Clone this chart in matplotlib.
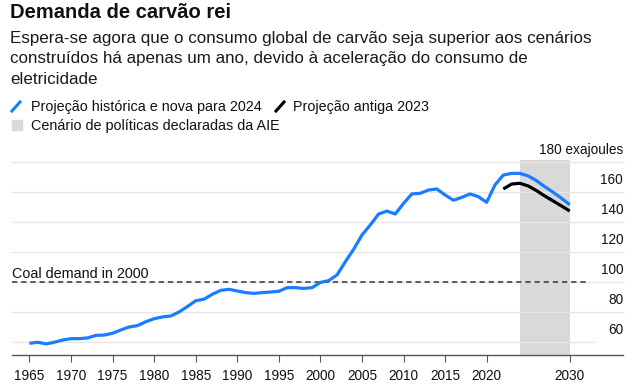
import matplotlib
matplotlib.use("Agg")
import matplotlib.pyplot as plt
from matplotlib.lines import Line2D
from matplotlib.patches import Rectangle

plt.rcParams['font.family'] = ['Liberation Sans', 'DejaVu Sans']

# ---- data ----
blue_years = list(range(1965, 2031))
blue_values = [58.9, 59.6, 58.5, 59.6, 61.1, 62.0, 62.0, 62.5, 64.2, 64.4,
               65.6, 67.8, 69.8, 70.7, 73.3, 75.3, 76.5, 77.1, 79.8, 83.4,
               87.3, 88.3, 91.6, 94.2, 94.9, 93.8, 92.7, 92.2, 92.7, 93.1,
               93.6, 96.0, 96.0, 95.5, 96.0, 99.5, 100.7, 104.5, 113.3, 121.6,
               131.1, 137.8, 145.1, 147.1, 145.1, 152.2, 158.5, 158.9, 161.1, 161.8,
               157.8, 154.3, 156.2, 158.5, 156.7, 152.9, 164.5, 171.1, 172.2, 172.2,
               170.5, 167.3, 163.3, 159.6, 155.6, 151.3]
black_years = list(range(2022, 2031))
black_values = [161.8, 165.1, 165.6, 163.8, 160.7, 157.1, 153.8, 150.5, 147.1]
shade_start, shade_end = 2024, 2030
coal_2000 = 100
y_ticks = [60, 80, 100, 120, 140, 160, 180]
x_ticks = [1965, 1970, 1975, 1980, 1985, 1990, 1995, 2000, 2005, 2010, 2015, 2020, 2030]

title = "Demanda de carvão rei"
subtitle_lines = ["Espera-se agora que o consumo global de carvão seja superior aos cenários",
                  "construídos há apenas um ano, devido à aceleração do consumo de",
                  "eletricidade"]
legend_blue = "Projeção histórica e nova para 2024"
legend_black = "Projeção antiga 2023"
legend_shade = "Cenário de políticas declaradas da AIE"

BLUE = "#1a7dff"
GRID = "#e6e6e6"
SHADE = "#d9d9d9"
TXT = "#111111"

W, H = 644, 385
fig = plt.figure(figsize=(W / 100, H / 100), dpi=100)

def fx(x):
    return x / W

def fy(y):
    return 1 - y / H

xmin, xmax = 1962.9, 2036.4
ymin, ymax = 51.1, 183.0
ax = fig.add_axes([fx(12), fy(355), fx(623) - fx(12), fy(157.2) - fy(355)])
ax.set_xlim(xmin, xmax)
ax.set_ylim(ymin, ymax)

for s in ['top', 'right', 'left']:
    ax.spines[s].set_visible(False)
ax.spines['bottom'].set_color('#555555')
ax.spines['bottom'].set_linewidth(1.0)

ax.set_yticks([])
ax.set_xticks(x_ticks)
ax.set_xticklabels([str(t) for t in x_ticks], fontsize=9.8, color=TXT)
ax.tick_params(axis='x', length=5, width=0.8, color='#555555', pad=5)

# gridlines + right labels
for v in y_ticks:
    xe = 2033.0 if v == 60 else xmax
    ax.plot([xmin, xe], [v, v], color=GRID, lw=1.0, zorder=1, clip_on=False)
    lab = f"{v} exajoules" if v == 180 else str(v)
    ax.text(xmax, v + 5.3, lab, ha='right', va='baseline', fontsize=9.8, color=TXT)

# shaded scenario
ax.axvspan(shade_start, shade_end, ymin=0, ymax=(181.0 - ymin) / (ymax - ymin),
           color=SHADE, lw=0, zorder=0)

# dashed reference
ax.plot([xmin, 2032.0], [coal_2000, coal_2000], color='#333333', lw=1.1,
        ls=(0, (3.5, 2.5)), zorder=2)
ax.text(xmin, coal_2000 + 2.5, "Coal demand in 2000", ha='left', va='baseline',
        fontsize=10.4, color=TXT)

ax.plot(black_years, black_values, color='black', lw=2.3, zorder=3,
        solid_capstyle='butt', solid_joinstyle='round')
ax.plot(blue_years, blue_values, color=BLUE, lw=2.3, zorder=4,
        solid_capstyle='butt', solid_joinstyle='round')

# header texts
fig.text(fx(10), fy(17.5), title, ha='left', va='baseline', fontsize=14.5,
         fontweight='bold', color=TXT)
for i, line in enumerate(subtitle_lines):
    fig.text(fx(10), fy(43.5 + 20 * i), line, ha='left', va='baseline',
             fontsize=12.25, color='#1a1a1a')

# legend
fig.add_artist(Line2D([fx(12), fx(20)], [fy(111), fy(102)], color=BLUE, lw=2.2))
fig.text(fx(31), fy(111.5), legend_blue, ha='left', va='baseline', fontsize=10.4, color=TXT)
fig.add_artist(Line2D([fx(276), fx(284)], [fy(111), fy(102)], color='black', lw=2.2))
fig.text(fx(293), fy(111.5), legend_black, ha='left', va='baseline', fontsize=10.4, color=TXT)
fig.add_artist(Rectangle((fx(12), fy(130)), fx(10), fy(0) - fy(10), color=SHADE,
                         transform=fig.transFigure))
fig.text(fx(31), fy(130.5), legend_shade, ha='left', va='baseline', fontsize=10.4, color=TXT)

fig.savefig("out.png", dpi=100)
